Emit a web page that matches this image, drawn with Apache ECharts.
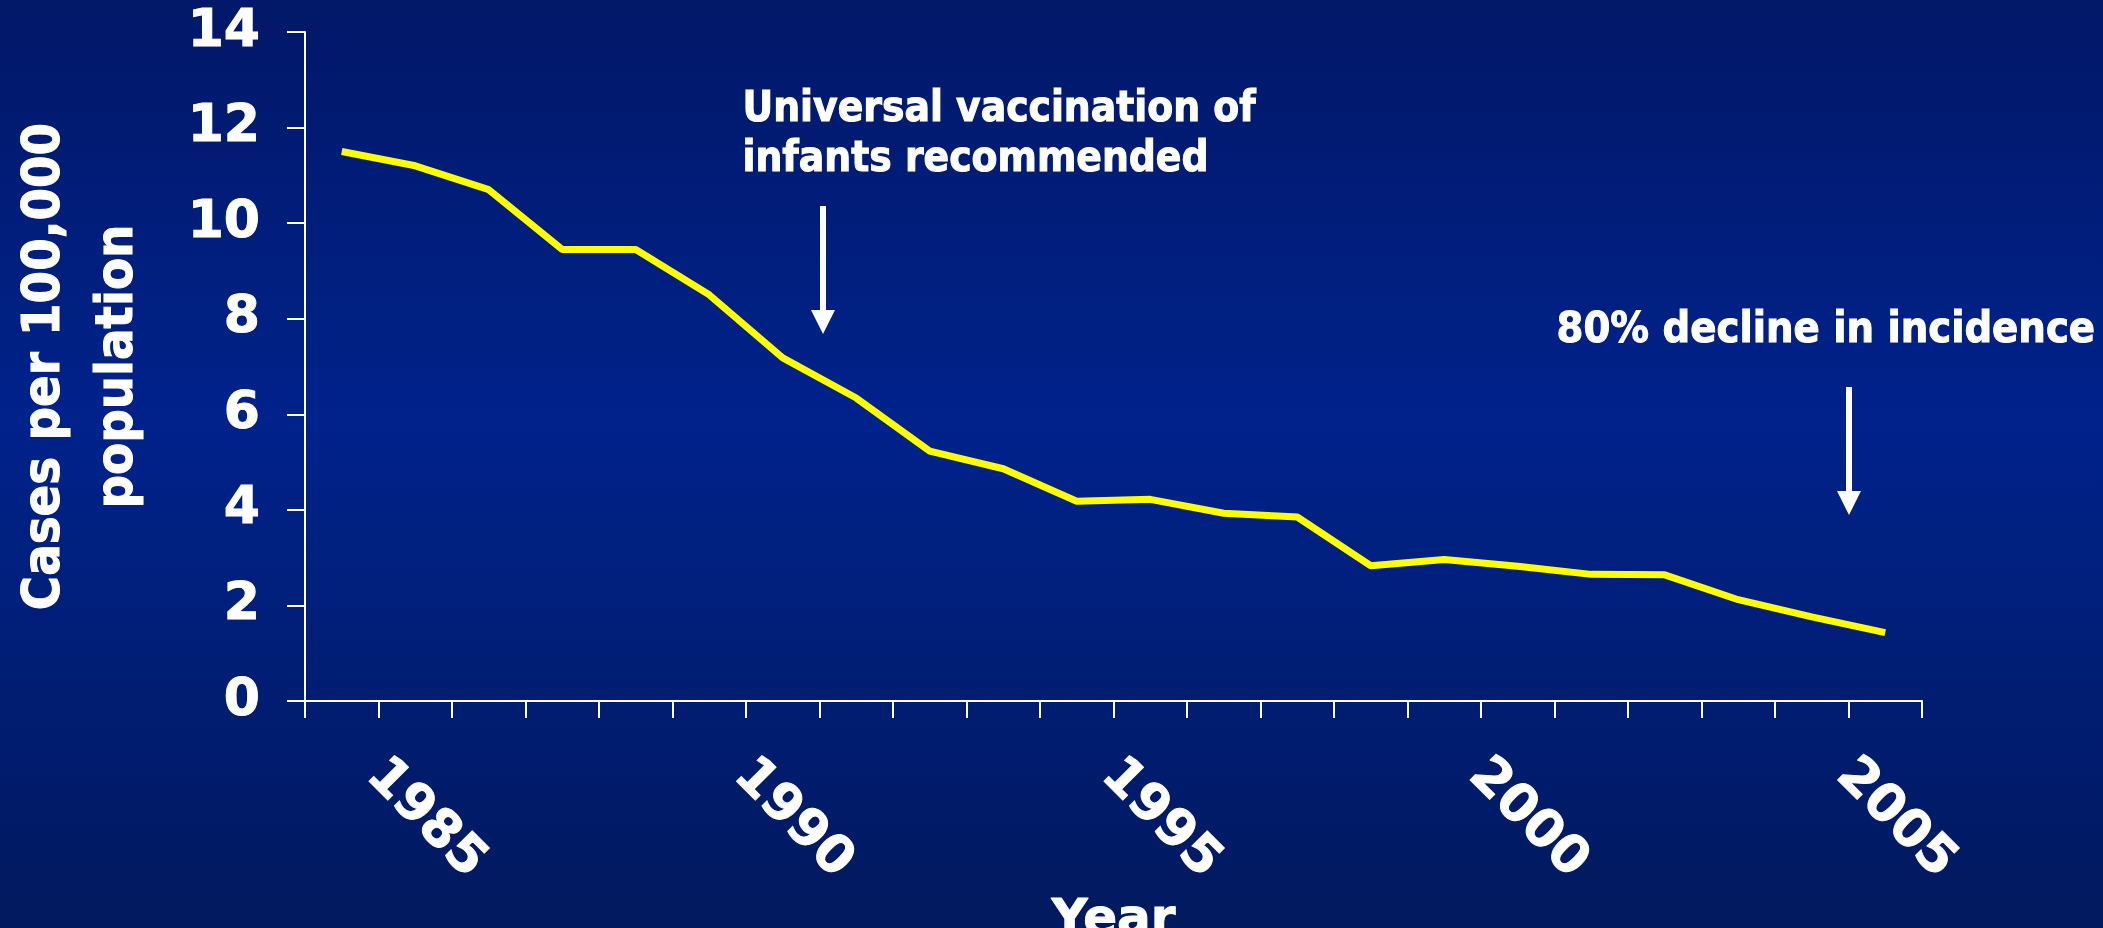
<!DOCTYPE html>
<html>
<head>
<meta charset="utf-8">
<title>Cases per 100,000 population</title>
<script src="https://cdn.jsdelivr.net/npm/echarts@6/dist/echarts.min.js"></script>
<style>
    html, body { margin: 0; padding: 0; background: #001c70; }
    #chart { width: 2103px; height: 928px; }
</style>
</head>
<body>
<div id="chart"></div>
<script>
// Dữ liệu: số ca trên 100.000 dân theo năm
var years = ['1985', '1986', '1987', '1988', '1989', '1990', '1991', '1992', '1993', '1994', '1995',
    '1996', '1997', '1998', '1999', '2000', '2001', '2002', '2003', '2004', '2005', '2006'];
var cases = [11.5, 11.2, 10.7, 9.45, 9.45, 8.5, 7.18, 6.34, 5.23, 4.86, 4.18,
    4.22, 3.93, 3.85, 2.83, 2.96, 2.82, 2.65, 2.64, 2.12, 1.76, 1.43];
var yTicks = [0, 2, 4, 6, 8, 10, 12, 14];
var notes = ['Universal vaccination of\ninfants recommended', '80% decline in incidence'];

var boldWide = '"DejaVu Sans", Verdana, sans-serif';
var boldNarrow = '"DejaVu Sans Condensed", "DejaVu Sans", Tahoma, sans-serif';

// Mũi tên chú thích (thân + đầu)
function arrow(x, y1, y2) {
    return {
        type: 'group',
        children: [{
            type: 'line',
            shape: { x1: x, y1: y1, x2: x, y2: y2 - 22 },
            style: { stroke: '#ffffff', lineWidth: 6 }
        }, {
            type: 'polygon',
            shape: { points: [[x - 12, y2 - 24], [x + 12, y2 - 24], [x, y2]] },
            style: { fill: '#ffffff' }
        }]
    };
}

function drawChart() {
    var chartDom = document.getElementById('chart');
    var myChart = echarts.init(chartDom);

    var option = {
        animation: false,
        backgroundColor: {
            type: 'linear', x: 0, y: 0, x2: 0, y2: 1,
            colorStops: [
                { offset: 0, color: '#021868' },
                { offset: 0.45, color: '#00228b' },
                { offset: 1, color: '#01195e' }
            ]
        },
        grid: { left: 305, right: 181, top: 32, bottom: 227, outerBoundsMode: 'none' },
        xAxis: {
            type: 'category',
            data: years,
            boundaryGap: true,
            name: 'Year',
            nameLocation: 'middle',
            nameGap: 172,
            nameTextStyle: {
                color: '#fff', fontFamily: boldWide, fontWeight: 'bold', fontSize: 50, verticalAlign: 'top',
                textBorderColor: '#fff', textBorderWidth: 1
            },
            axisLine: { show: true, lineStyle: { color: '#fff', width: 2 } },
            axisTick: { show: true, interval: 0, length: 17, lineStyle: { color: '#fff', width: 2 } },
            axisLabel: {
                interval: 4,
                rotate: -45,
                margin: 34,
                align: 'left',
                verticalAlign: 'middle',
                padding: [0, 0, 0, 46],
                color: '#fff',
                fontFamily: boldWide,
                fontWeight: 'bold',
                fontSize: 52,
                textBorderColor: '#fff',
                textBorderWidth: 1
            },
            splitLine: { show: false }
        },
        yAxis: {
            type: 'value',
            min: yTicks[0],
            max: yTicks[yTicks.length - 1],
            interval: yTicks[1] - yTicks[0],
            name: 'Cases per 100,000\npopulation',
            nameLocation: 'middle',
            nameRotate: 90,
            nameGap: 150,
            nameTextStyle: {
                color: '#fff', fontFamily: boldNarrow, fontWeight: 'bold', fontSize: 52, lineHeight: 73, align: 'center',
                textBorderColor: '#fff', textBorderWidth: 1
            },
            axisLine: { show: true, lineStyle: { color: '#fff', width: 2 } },
            axisTick: { show: true, length: 18, lineStyle: { color: '#fff', width: 2 } },
            axisLabel: {
                margin: 45, color: '#fff', fontFamily: boldWide, fontWeight: 'bold', fontSize: 52,
                textBorderColor: '#fff', textBorderWidth: 1
            },
            splitLine: { show: false }
        },
        series: [{
            type: 'line',
            data: cases,
            symbol: 'none',
            z: 5,
            lineStyle: { color: '#ffff00', width: 7 }
        }],
        graphic: [{
            type: 'text',
            left: 742, top: 85,
            style: {
                text: notes[0], fill: '#fff', font: 'bold 42px ' + boldNarrow, lineHeight: 50,
                stroke: '#fff', lineWidth: 1
            }
        }, {
            type: 'text',
            left: 1556, top: 306,
            style: {
                text: notes[1], fill: '#fff', font: 'bold 43px ' + boldNarrow, lineHeight: 50,
                stroke: '#fff', lineWidth: 1
            }
        },
        arrow(823, 206, 334),
        arrow(1849, 387, 515)]
    };

    myChart.setOption(option);
}
drawChart();
</script>
</body>
</html>
